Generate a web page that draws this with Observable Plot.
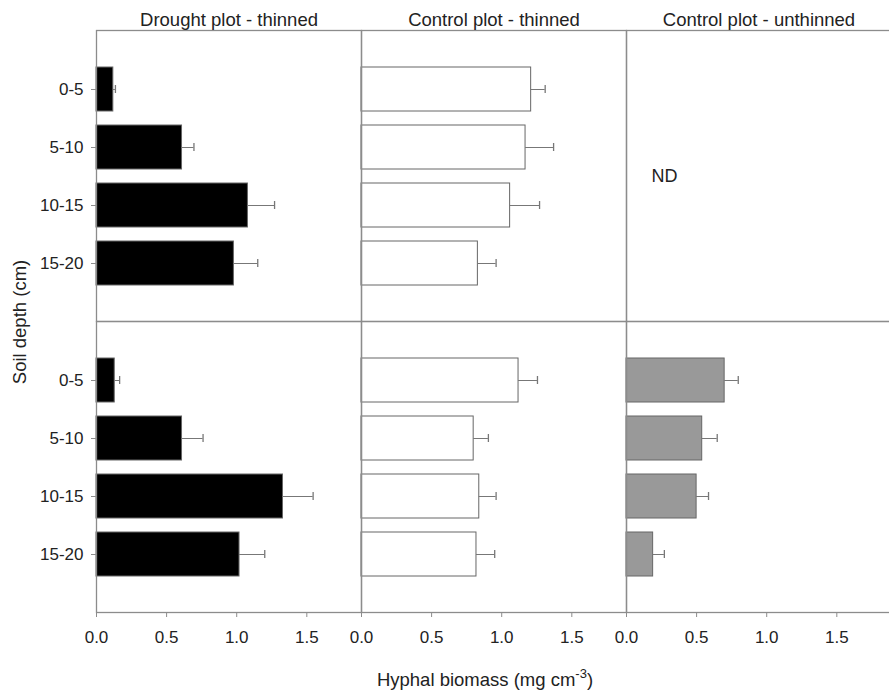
<!DOCTYPE html>
<html>
<head>
<meta charset="utf-8">
<script src="https://cdn.jsdelivr.net/npm/d3@7"></script>
<script src="https://cdn.jsdelivr.net/npm/@observablehq/plot@0.6"></script>
<style>
  html, body { margin: 0; padding: 0; background: #fff; overflow: hidden; }
</style>
</head>
<body>
<div id="chart"></div>
<script>
// Soil depth classes (cm) and plot treatments
const depths = ["0-5", "5-10", "10-15", "15-20"];
const plots = ["Drought plot - thinned", "Control plot - thinned", "Control plot - unthinned"];
const samplings = ["first", "second"];
const xTicks = [0, 0.5, 1.0, 1.5];

// Hyphal biomass means (mg cm-3) and standard errors, by depth
const droughtThinnedFirst = [0.12, 0.61, 1.08, 0.98];
const droughtThinnedFirstSE = [0.015, 0.085, 0.19, 0.17];
const droughtThinnedSecond = [0.13, 0.61, 1.33, 1.02];
const droughtThinnedSecondSE = [0.035, 0.15, 0.215, 0.18];

const controlThinnedFirst = [1.21, 1.17, 1.06, 0.83];
const controlThinnedFirstSE = [0.10, 0.20, 0.21, 0.13];
const controlThinnedSecond = [1.12, 0.80, 0.84, 0.82];
const controlThinnedSecondSE = [0.135, 0.105, 0.12, 0.13];

const controlUnthinnedSecond = [0.70, 0.54, 0.50, 0.19];
const controlUnthinnedSecondSE = [0.097, 0.107, 0.085, 0.08];

// Not determined for the unthinned control at the first sampling
const notDetermined = [{plot: plots[2], sampling: samplings[0], label: "ND"}];

function series(plot, sampling, means, se) {
  return depths.map((depth, i) => ({plot, sampling, depth, mean: means[i], se: se[i]}));
}

const data = [
  ...series(plots[0], samplings[0], droughtThinnedFirst, droughtThinnedFirstSE),
  ...series(plots[0], samplings[1], droughtThinnedSecond, droughtThinnedSecondSE),
  ...series(plots[1], samplings[0], controlThinnedFirst, controlThinnedFirstSE),
  ...series(plots[1], samplings[1], controlThinnedSecond, controlThinnedSecondSE),
  ...series(plots[2], samplings[1], controlUnthinnedSecond, controlUnthinnedSecondSE)
];

const lineColor = "#8c8c8c";
const errColor = "#777";
const font = "'Liberation Sans', Arial, sans-serif";

const chart = Plot.plot({
  width: 889,
  height: 692,
  marginLeft: 95,
  marginRight: -2,
  marginTop: 30,
  marginBottom: 80,
  style: {fontFamily: font, color: "#222", background: "#fff"},
  fx: {domain: plots, padding: 0},
  fy: {domain: samplings, padding: 0, axis: null},
  x: {domain: [0, 1.89]},
  y: {domain: depths, paddingInner: 0.245, paddingOuter: 0.62},
  color: {domain: plots, range: ["#000000", "#ffffff", "#999999"]},
  marks: [
    Plot.barX(data, {
      fx: "plot", fy: "sampling", y: "depth", x: "mean",
      fill: "plot", stroke: "#666", strokeWidth: 1
    }),
    Plot.ruleY(data, {
      fx: "plot", fy: "sampling", y: "depth",
      x1: "mean", x2: d => d.mean + d.se,
      stroke: errColor, strokeWidth: 1
    }),
    Plot.tickX(data, {
      fx: "plot", fy: "sampling", y: "depth",
      x: d => d.mean + d.se,
      stroke: errColor, strokeWidth: 1.3, insetTop: 18, insetBottom: 18
    }),
    Plot.text(notDetermined, {
      fx: "plot", fy: "sampling", text: "label",
      frameAnchor: "left", dx: 25, textAnchor: "start", fontSize: 18, fill: "#222"
    }),
    Plot.frame({stroke: lineColor, strokeWidth: 1.3}),
    Plot.axisX({
      ticks: xTicks, tickFormat: d3.format(".1f"), tickSize: 5, tickPadding: 13,
      fontSize: 17, label: null, stroke: lineColor
    }),
    Plot.axisY({tickSize: 5, tickPadding: 8, fontSize: 17, label: null, stroke: lineColor}),
    Plot.axisFx({anchor: "top", tickSize: 0, tickPadding: 5, fontSize: 18.5, label: null})
  ]
});

const svg = d3.select(chart);

// Axis titles
svg.append("text")
  .attr("transform", "translate(26,322) rotate(-90)")
  .attr("text-anchor", "middle")
  .attr("font-family", font)
  .attr("font-size", 18.5)
  .attr("fill", "#222")
  .text("Soil depth (cm)");

const xLabel = svg.append("text")
  .attr("x", 485)
  .attr("y", 686)
  .attr("text-anchor", "middle")
  .attr("font-family", font)
  .attr("font-size", 18.5)
  .attr("fill", "#222");
xLabel.append("tspan").text("Hyphal biomass (mg cm");
xLabel.append("tspan").attr("dy", -8).attr("font-size", 13).text("-3");
xLabel.append("tspan").attr("dy", 8).text(")");

document.getElementById("chart").appendChild(chart);
</script>
</body>
</html>
